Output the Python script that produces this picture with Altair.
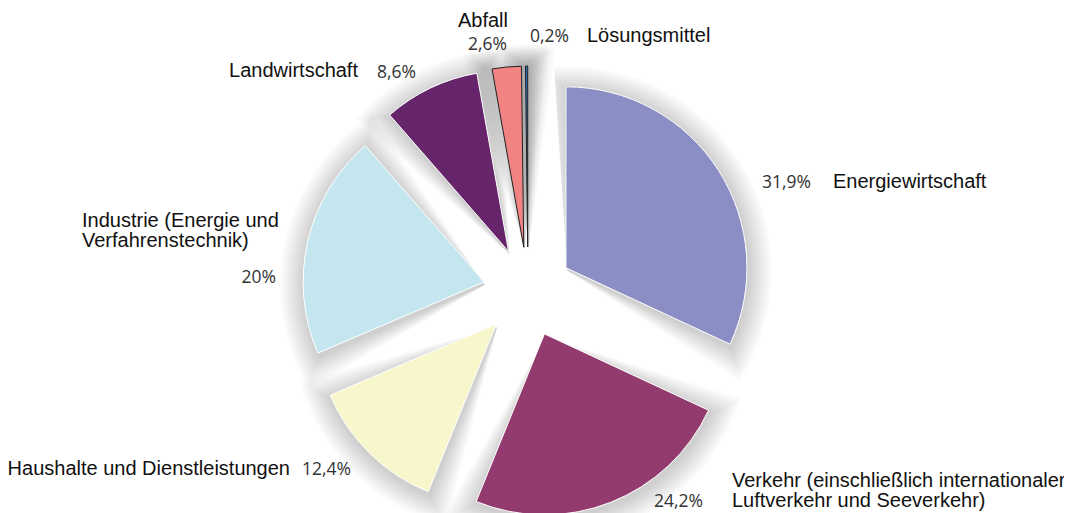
import math
import altair as alt
import pandas as pd

# ---------------- data ----------------
categories = [
    "Energiewirtschaft",
    "Verkehr (einschließlich internationaler\nLuftverkehr und Seeverkehr)",
    "Haushalte und Dienstleistungen",
    "Industrie (Energie und\nVerfahrenstechnik)",
    "Landwirtschaft",
    "Abfall",
    "Lösungsmittel",
]
shares = [31.9, 24.2, 12.4, 20.0, 8.6, 2.6, 0.2]
share_labels = ["31,9%", "24,2%", "12,4%", "20%", "8,6%", "2,6%", "0,2%"]

# ---------------- style / layout ----------------
palette = ["#8b8ec4", "#933a6e", "#f8f6cb", "#c4e7ef", "#66246b", "#f28383", "#2e6bb5"]
W, H = 1056, 505
CX, CY = 520, 284          # pie centre inside the plot area
R = 181                    # pie radius (px)
EXPLODE = 45               # explode distance (px)
TOTAL = sum(shares)

# label anchors relative to pie centre: (dx, dy, align)
name_pos = [(305, -104, "left"), (204, 195, "left"), (-238, 183, "right"),
            (-446, -65, "left"), (-170, -215, "right"), (-20, -265, "right"),
            (59, -250, "left")]
pct_pos = [(234, -104, "left"), (175, 215, "right"), (-226, 183, "left"),
           (-252, -9, "right"), (-151, -214, "left"), (-21, -242, "right"),
           (2, -250, "left")]

df = pd.DataFrame({"category": categories, "share": shares, "order": range(len(shares))})

xs = alt.Scale(domain=[-CX, W - CX], range=[0, W])
ys = alt.Scale(domain=[-CY, H - CY], range=[0, H])
ts = alt.Scale(domain=[0, TOTAL], range=[0, 2 * math.pi])

base = (
    alt.Chart(df)
    .transform_window(t1="sum(share)", sort=[alt.SortField("order")], frame=[None, 0])
    .transform_calculate(t0="datum.t1 - datum.share")
    .transform_calculate(mid=f"(datum.t0 + datum.t1) / 2 / {TOTAL} * 2 * PI")
    .transform_calculate(cx=f"{EXPLODE} * sin(datum.mid)", cy=f"-{EXPLODE} * cos(datum.mid)")
)

layers = []
# soft drop shadow
for s in range(2, 26, 2):
    k = s / R / (2 * math.pi) * TOTAL
    sh = (
        base.transform_calculate(s0=f"max(datum.t0 - {k}, -1)", s1=f"datum.t1 + {k}")
        .mark_arc(radius=R + s, color="#000000", opacity=0.017, xOffset=1, yOffset=3)
        .encode(
            x=alt.X("cx:Q", scale=xs, axis=None),
            y=alt.Y("cy:Q", scale=ys, axis=None),
            theta=alt.Theta("s0:Q", scale=ts, stack=None),
            theta2="s1:Q",
        )
    )
    layers.append(sh)

slices = base.mark_arc(radius=R, strokeWidth=1).encode(
    x=alt.X("cx:Q", scale=xs, axis=None),
    y=alt.Y("cy:Q", scale=ys, axis=None),
    theta=alt.Theta("t0:Q", scale=ts, stack=None),
    theta2="t1:Q",
    color=alt.Color("category:N", scale=alt.Scale(domain=categories, range=palette), legend=None),
    stroke=alt.condition("datum.share < 5", alt.value("#222222"), alt.value("#ffffff")),
)
layers.append(slices)

lab = pd.DataFrame({
    "name": categories,
    "pct": share_labels,
    "nx": [p[0] for p in name_pos], "ny": [p[1] for p in name_pos], "na": [p[2] for p in name_pos],
    "px": [p[0] for p in pct_pos], "py": [p[1] for p in pct_pos], "pa": [p[2] for p in pct_pos],
})

for al in ["left", "right"]:
    layers.append(
        alt.Chart(lab).transform_filter(f"datum.na == '{al}'")
        .mark_text(align=al, baseline="alphabetic", font="Liberation Sans", fontSize=20,
                   color="#111111", lineBreak="\n", lineHeight=20)
        .encode(x=alt.X("nx:Q", scale=xs, axis=None), y=alt.Y("ny:Q", scale=ys, axis=None), text="name:N")
    )
    layers.append(
        alt.Chart(lab).transform_filter(f"datum.pa == '{al}'")
        .mark_text(align=al, baseline="alphabetic", font="Open Sans", fontSize=17.5, color="#333333")
        .encode(x=alt.X("px:Q", scale=xs, axis=None), y=alt.Y("py:Q", scale=ys, axis=None), text="pct:N")
    )

chart = (
    alt.layer(*layers)
    .properties(width=W, height=H, padding=0, autosize=alt.AutoSizeParams(type="none"), background="white")
    .configure_view(stroke=None)
)

chart.save("out.html", embed_options={"renderer": "svg", "actions": False})
